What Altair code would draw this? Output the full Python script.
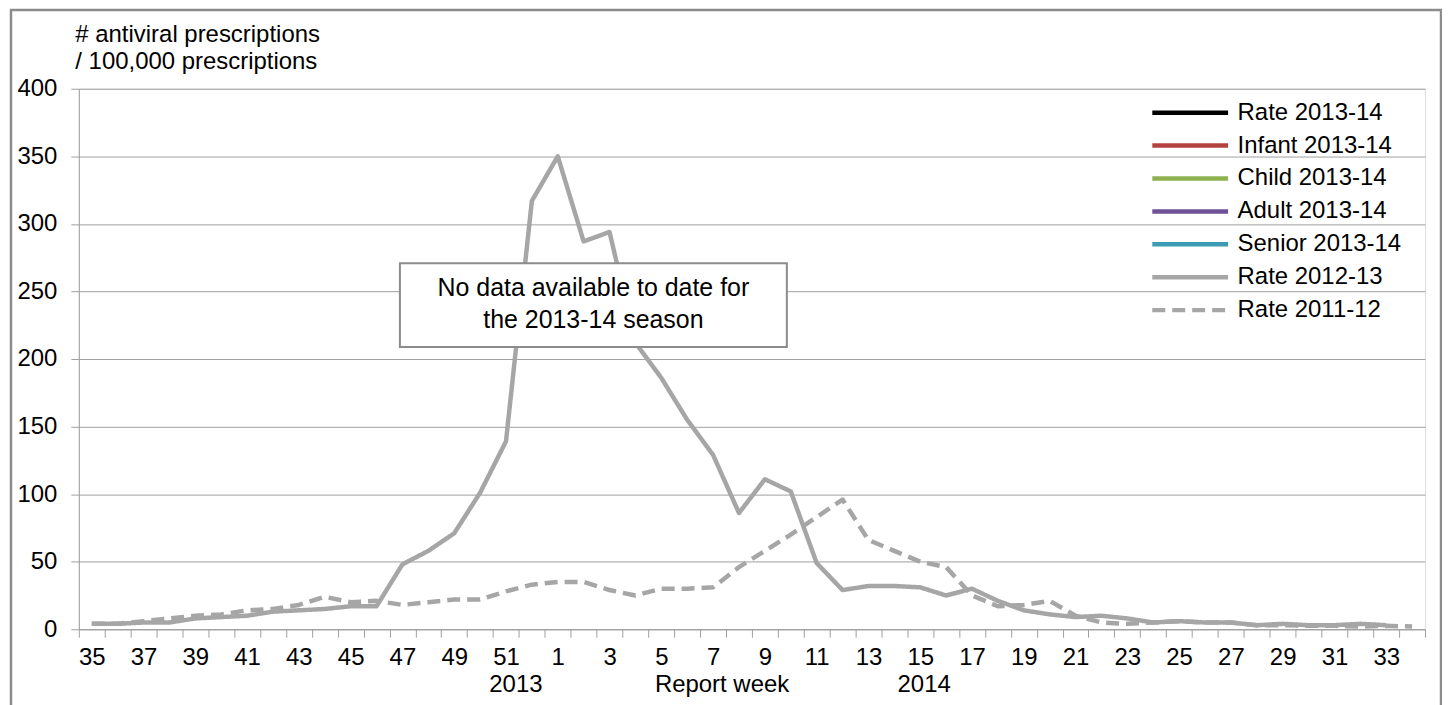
import altair as alt
import pandas as pd

# ---------------- data ----------------
weeks = list(range(35, 53)) + list(range(1, 35))

# Rate 2012-13 (week 35 .. week 33)
rate_2012_13 = [4, 4, 5, 5, 8, 9, 10, 13, 14, 15, 17, 17, 48, 58, 71, 101, 139, 317,
                350, 287, 294, 212, 186, 155, 129, 86, 111, 102, 49, 29, 32, 32, 31, 25,
                30, 21, 14, 11, 9, 10, 8, 5, 6, 5, 5, 3, 4, 3, 3, 4, 3]

# Rate 2011-12 (week 35 .. week 34)
rate_2011_12 = [4, 4, 6, 8, 10, 11, 14, 15, 18, 24, 20, 21, 18, 20, 22, 22, 28, 33,
                35, 35, 29, 25, 30, 30, 31, 46, 58, 70, 83, 96, 66, 58, 50, 46,
                25, 17, 18, 21, 10, 5, 4, 5, 6, 5, 5, 3, 3, 2.5, 2.5, 2, 2.5, 2]

series_names = ["Rate 2013-14", "Infant 2013-14", "Child 2013-14", "Adult 2013-14",
                "Senior 2013-14", "Rate 2012-13", "Rate 2011-12"]
series_colors = ["#000000", "#b5413e", "#8db150", "#6e5196", "#3c9cb5", "#a6a6a6", "#a6a6a6"]
series_dashes = [[1, 0], [1, 0], [1, 0], [1, 0], [1, 0], [1, 0], [13, 7]]

note_lines = ["No data available to date for", "the 2013-14 season"]
x_notes = [52, 8, 16]
x_note_texts = ["2013", "Report week", "2014"]
x_note_dx = [-3, -4, -9]
y_title = ["# antiviral prescriptions", "/ 100,000 prescriptions"]

FONT = "Liberation Sans"
GRAY = "#a0a0a0"

rows = []
for w, v in zip(weeks, rate_2012_13):
    rows.append({"week": w, "value": v, "series": "Rate 2012-13"})
for w, v in zip(weeks, rate_2011_12):
    rows.append({"week": w, "value": v, "series": "Rate 2011-12"})
df = pd.DataFrame(rows)

xscale = alt.Scale(type="band", paddingInner=0, paddingOuter=0)

legend = alt.Legend(
    title=None, orient="none", legendX=1074, legendY=12, padding=0,
    symbolType="stroke", symbolSize=5776, symbolStrokeWidth=4.5,
    clipHeight=24, rowPadding=9, labelOffset=7,
    labelFontSize=24, labelFont=FONT, labelColor="#000000", labelLimit=400,
)

lines = alt.Chart(df).mark_line(strokeWidth=4.5, strokeJoin="round").encode(
    x=alt.X("week:O", sort=weeks, scale=xscale, bandPosition=0.5,
            axis=alt.Axis(title=None, tickBand="extent", labelAngle=0,
                          labelExpr="datum.value % 2 == 1 ? datum.label : ''",
                          labelFontSize=24, labelFont=FONT, labelColor="#000000",
                          labelPadding=8, tickSize=8, tickColor=GRAY, domainColor=GRAY,
                          grid=False)),
    y=alt.Y("value:Q", scale=alt.Scale(domain=[0, 400], nice=False),
            axis=alt.Axis(values=list(range(0, 401, 50)), grid=True, gridColor=GRAY,
                          domainColor=GRAY, tickColor=GRAY, tickSize=8,
                          labelFontSize=24, labelFont=FONT, labelColor="#000000",
                          labelPadding=14,
                          title=y_title, titleAngle=0, titleAlign="left",
                          titleBaseline="top", titleX=-4, titleY=-66,
                          titleFont=FONT, titleFontSize=24, titleFontWeight="normal",
                          titleColor="#000000", titleLineHeight=27)),
    color=alt.Color("series:N", scale=alt.Scale(domain=series_names, range=series_colors),
                    legend=legend),
    strokeDash=alt.StrokeDash("series:N",
                              scale=alt.Scale(domain=series_names, range=series_dashes),
                              legend=legend),
)

box_df = pd.DataFrame({"k": [0]})
box = alt.Chart(box_df).mark_rect(fill="white", stroke="#8c8c8c", strokeWidth=2).encode(
    x=alt.value(322), x2=alt.value(710), y=alt.value(175), y2=alt.value(259)
)

note_df = pd.DataFrame({"k": [0], "t": ["\n".join(note_lines)]})
note = alt.Chart(note_df).mark_text(
    font=FONT, fontSize=25, align="center", baseline="middle", lineBreak="\n",
    lineHeight=32, color="#000000"
).encode(x=alt.value(516), y=alt.value(200), text="t:N")

xn_df = pd.DataFrame({"week": x_notes, "t": x_note_texts, "dx": x_note_dx})
xnotes = alt.Chart(xn_df).mark_text(
    font=FONT, fontSize=24, align="center", baseline="middle", color="#000000"
).encode(
    x=alt.X("week:O", sort=weeks, scale=xscale, bandPosition=0.5),
    xOffset=alt.XOffset("dx:Q", scale=None),
    y=alt.value(598), text="t:N"
)

frame = alt.Chart(box_df).mark_rect(fill=None, stroke="#8c8c8c", strokeWidth=2.5).encode(
    x=alt.value(-68), x2=alt.value(1366), y=alt.value(-79), y2=alt.value(700)
)

chart = alt.layer(frame, lines, box, note, xnotes).properties(
    width=1350, height=542,
    autosize=alt.AutoSizeParams(type="none"),
    padding={"left": 71, "top": 80, "right": 17, "bottom": 75},
).configure_view(stroke=None).configure(font=FONT)

chart.save("out.html", embed_options={"renderer": "svg", "actions": False})
